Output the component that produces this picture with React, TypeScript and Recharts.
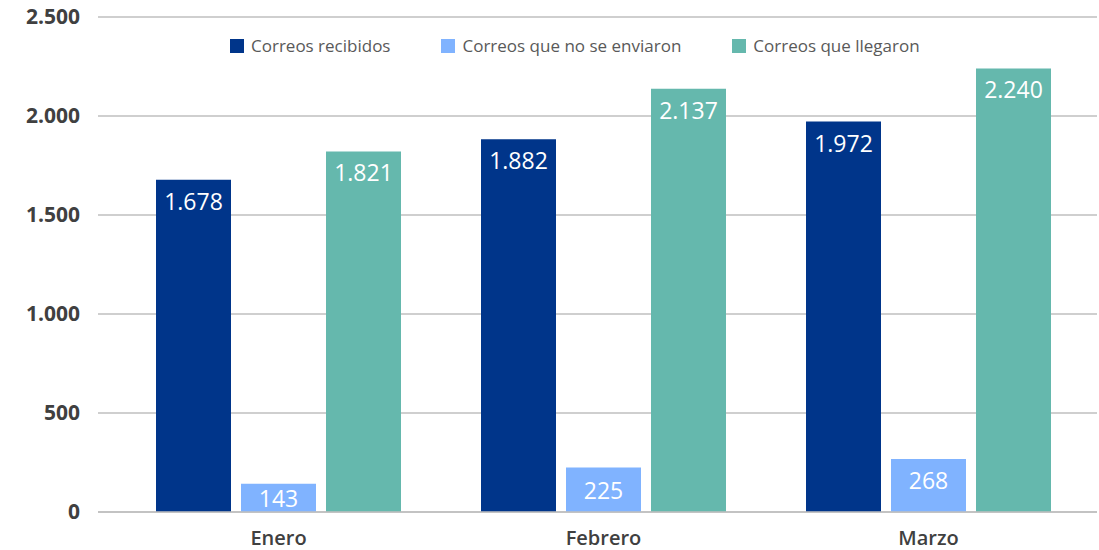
import { BarChart, Bar, XAxis, YAxis, CartesianGrid, LabelList } from 'recharts';

const months = ['Enero', 'Febrero', 'Marzo'];
const recibidos = [1678, 1882, 1972];
const noEnviados = [143, 225, 268];
const llegaron = [1821, 2137, 2240];
const yTicks = [0, 500, 1000, 1500, 2000, 2500];

const series = [
  { key: 'recibidos', name: 'Correos recibidos', color: '#00358A' },
  { key: 'noEnviados', name: 'Correos que no se enviaron', color: '#80B3FF' },
  { key: 'llegaron', name: 'Correos que llegaron', color: '#65B8AD' },
];

const data = months.map((m, i) => ({
  month: m,
  recibidos: recibidos[i],
  noEnviados: noEnviados[i],
  llegaron: llegaron[i],
}));

const fmt = (v: number) => v.toLocaleString('de-DE');
const font = '"Open Sans", "Noto Sans", sans-serif';

// inside-end label; short bars get it centred so it stays in the bar
const renderLabel = (props: any) => {
  const x = Number(props.x), y = Number(props.y);
  const w = Number(props.width), h = Number(props.height);
  const cy = h < 48 ? y + h / 2 : y + 21;
  return (
    <text x={x + w / 2} y={cy} textAnchor="middle" dominantBaseline="central"
      fill="#fff" fontSize={23} fontWeight={500} fontFamily={font}>
      {fmt(Number(props.value))}
    </text>
  );
};

function LegendBox() {
  return (
    <div style={{
      position: 'absolute', left: 230, top: 35, display: 'flex', gap: 51,
      fontFamily: font, fontSize: 17, color: '#595959', lineHeight: '22px',
    }}>
      {series.map(s => (
        <div key={s.key} style={{ display: 'flex', alignItems: 'center', gap: 7 }}>
          <span style={{ width: 14, height: 14, background: s.color, display: 'inline-block' }} />
          <span>{s.name}</span>
        </div>
      ))}
    </div>
  );
}

export default function App() {
  return (
    <div style={{ position: 'absolute', left: 0, top: 0, width: 1099, height: 550, background: '#fff' }}>
      <BarChart width={1099} height={550} data={data} barGap={10}
        margin={{ top: 17, right: 2, left: 0, bottom: 0 }}>
        <CartesianGrid vertical={false} stroke="#BFBFBF" strokeWidth={1.5} />
        <XAxis dataKey="month" height={38} padding={{ left: 18, right: 6 }}
          axisLine={{ stroke: '#BFBFBF', strokeWidth: 1.5 }} tickLine={false} tickMargin={13}
          tick={{ fill: '#404040', fontSize: 20, fontFamily: font, fontWeight: 600 }} />
        <YAxis width={98} domain={[0, 2500]} ticks={yTicks} tickFormatter={fmt}
          axisLine={false} tickLine={false} tickSize={0} tickMargin={18}
          tick={{ fill: '#404040', fontSize: 21, fontFamily: font, fontWeight: 700 }} />
        {series.map(s => (
          <Bar key={s.key} dataKey={s.key} name={s.name} fill={s.color} barSize={75} isAnimationActive={false}>
            <LabelList dataKey={s.key} content={renderLabel} />
          </Bar>
        ))}
      </BarChart>
      <LegendBox />
    </div>
  );
}
